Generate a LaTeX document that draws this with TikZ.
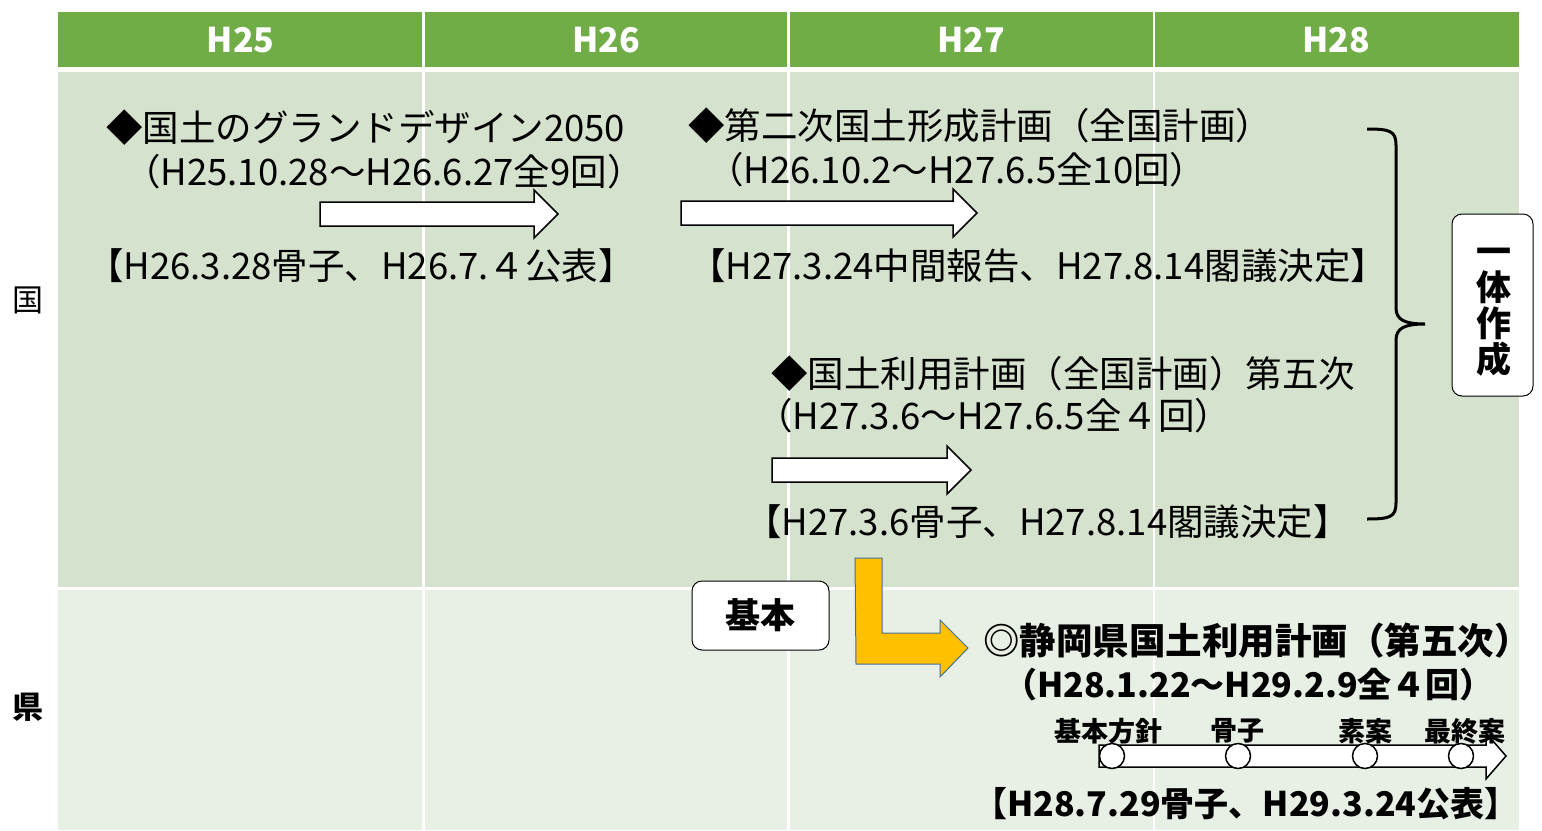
\documentclass[tikz,border=0pt]{standalone}
\usepackage{fontspec}
\setmainfont{Noto Sans CJK JP}
\usepackage{tikz}
\usetikzlibrary{positioning}
\definecolor{hdrgreen}{RGB}{112,173,71}
\definecolor{rowkuni}{RGB}{213,226,205}
\definecolor{rowken}{RGB}{232,239,228}
\definecolor{kiiro}{RGB}{255,192,0}
\definecolor{kiirorand}{RGB}{65,113,156}
% Blockpfeil: x-Start, x-Spitze, y-Mitte, halbe Schaftbreite, halbe Kopfbreite
\newcommand{\blockarr}[5]{%
\draw[blk] (#1,#3-#4) -- (#2-24,#3-#4) -- (#2-24,#3-#5) -- (#2,#3) -- (#2-24,#3+#5) -- (#2-24,#3+#4) -- (#1,#3+#4) -- cycle;}

\begin{document}
\begin{tikzpicture}[
x=1pt, y=-1pt,
txt/.style={anchor=west, inner sep=0pt, font=\fontsize{36.5}{42}\selectfont},
ken/.style={anchor=west, inner sep=0pt, font=\fontsize{34}{40}\selectfont\bfseries},
lbl/.style={inner sep=0pt, font=\fontsize{27}{32}\selectfont\bfseries},
hdr/.style={inner sep=0pt, text=white, font=\fontsize{34}{40}\selectfont\bfseries},
blk/.style={draw=black, line width=1.5pt, fill=white},
box/.style={draw=black, line width=1pt, fill=white, rounded corners=10pt, inner sep=0pt, font=\fontsize{35}{36}\selectfont\bfseries}
]
\useasboundingbox (0,0) rectangle (1542,830);

% Tabelle
\fill[hdrgreen] (58,12) rectangle (1519,67);
\fill[rowkuni] (58,72) rectangle (1519,587);
\fill[rowken] (58,590) rectangle (1519,830);
\foreach \c in {1,2,3}
\draw[white, line width=2.5pt] ({58+365.25*\c},12) -- ({58+365.25*\c},830);

% Jahre
\foreach \yr [count=\i] in {25,...,28}
\node[hdr] (h\yr) at ({58+365.25*(\i-0.5)},40) {H\yr};

% Zeilenbeschriftung
\node[inner sep=0pt, font=\fontsize{31}{36}\selectfont] (kuni) at (28,300) {国};
\node[inner sep=0pt, font=\fontsize{31}{36}\selectfont\bfseries] (ken) at (28,707) {県};

% Grand Design
\node[txt] (gd1) at (106,128) {◆国土のグランドデザイン2050};
\node[txt] (gd2) at (124,172) {（H25.10.28～H26.6.27全9回）};
\blockarr{320}{558}{214}{12}{24}
\node[txt] (gd3) at (87,266) {【H26.3.28骨子、H26.7.４公表】};

% Kokudo keisei
\node[txt] (kk1) at (688,126) {◆第二次国土形成計画（全国計画）};
\node[txt] (kk2) at (707,170) {（H26.10.2～H27.6.5全10回）};
\blockarr{681}{977}{213}{12}{24}
\node[txt] (kk3) at (689,266) {【H27.3.24中間報告、H27.8.14閣議決定】};

% Kokudo riyou
\node[txt] (kr1) at (771,374) {◆国土利用計画（全国計画）第五次};
\node[txt] (kr2) at (756,416) {（H27.3.6～H27.6.5全４回）};
\blockarr{772}{971}{470}{12}{24}
\node[txt] (kr3) at (745,522) {【H27.3.6骨子、H27.8.14閣議決定】};

% Klammer
\draw[line width=3pt] (1367,129) .. controls (1390,129) and (1396,131) .. (1396,145) -- (1396,308)
  .. controls (1396,320) and (1405,324) .. (1425,324)
  .. controls (1405,324) and (1396,328) .. (1396,340) -- (1396,503)
  .. controls (1396,517) and (1390,519) .. (1367,519);
\node[box, minimum width=81pt, minimum height=182pt] (ittai) at (1492.5,305) {};
\node[inner sep=0pt, align=center, font=\fontsize{35}{36}\selectfont\bfseries] (ittaitx) at (1494,312) {一\\体\\作\\成};

% gelber Pfeil
\draw[fill=kiiro, draw=kiirorand, line width=1pt] (855,558) -- (882,558) -- (882,633) -- (940,633) -- (940,620)
  -- (968,648) -- (940,677) -- (940,664) -- (856,664) -- cycle;
\node[box, minimum width=137pt, minimum height=69pt] (kihon) at (760.5,615.5) {基本};

% Shizuoka
\node[ken, font=\fontsize{36.5}{40}\selectfont\bfseries] (sz1) at (983,641) {◎静岡県国土利用計画（第五次）};
\node[ken] (sz2) at (1003,685) {（H28.1.22～H29.2.9全４回）};
\draw[blk] (1099,745) -- (1486,745) -- (1486,733) -- (1506,756) -- (1486,779) -- (1486,767) -- (1099,767) -- cycle;
\foreach \cx/\lx/\nm/\tx in {1112/1108/c1/基本方針,1238/1237/c2/骨子,1365/1365/c3/素案,1461/1465/c4/最終案}{
\node[draw=black, line width=1.5pt, fill=white, circle, minimum size=25pt, inner sep=0pt] (\nm) at (\cx,756) {};
\node[lbl] (l\nm) at (\lx,731) {\tx};
}
\node[ken] (sz3) at (973,804) {【H28.7.29骨子、H29.3.24公表】};
\end{tikzpicture}
\end{document}
